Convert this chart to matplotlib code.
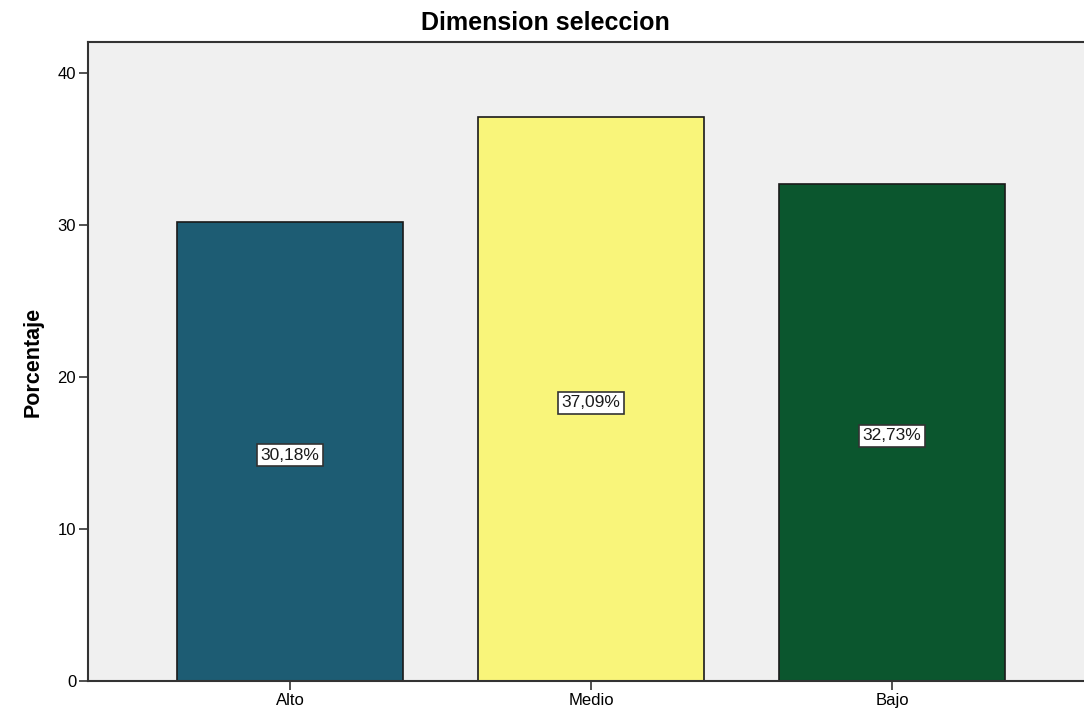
import matplotlib
matplotlib.use('Agg')
import matplotlib.pyplot as plt

# Data
categorias = ['Alto', 'Medio', 'Bajo']
porcentajes = [30.18, 37.09, 32.73]
etiquetas = ['30,18%', '37,09%', '32,73%']
colores = ['#1d5c73', '#f9f57a', '#0b562e']

plt.rcParams['font.family'] = ['Liberation Sans', 'DejaVu Sans']

fig = plt.figure(figsize=(10.84, 7.11), dpi=100)
ax = fig.add_axes([0.0812, 0.0422, 0.9188, 0.8987])
ax.set_facecolor('#f0f0f0')

x = range(len(categorias))
ax.bar(x, porcentajes, width=0.75, color=colores, edgecolor='#1a1a1a', linewidth=1.2, zorder=2)

# Value labels in the middle of each bar
for xi, val, lab in zip(x, porcentajes, etiquetas):
    ax.annotate(lab, (xi, val / 2), xytext=(0, -2.5), textcoords='offset points',
                ha='center', va='center', fontsize=12.5, color='#1a1a1a',
                bbox=dict(boxstyle='square,pad=0.2', facecolor='white', edgecolor='#333333', linewidth=1.2),
                zorder=3)

ax.set_xlim(-0.671, 2.638)
ax.set_ylim(0, 42.05)
ax.set_xticks(list(x))
ax.set_xticklabels(categorias)
ax.set_yticks([0, 10, 20, 30, 40])
ax.tick_params(axis='both', labelsize=12, length=6.5, width=1.2, color='#333333', pad=2)

ax.spines['right'].set_visible(False)
for side in ['left', 'bottom', 'top']:
    ax.spines[side].set_color('#333333')
    ax.spines[side].set_linewidth(1.5)

ax.set_ylabel('Porcentaje', fontsize=15.5, fontweight='bold', labelpad=10)
fig.text(0.503, 0.968, 'Dimension seleccion', ha='center', va='center', fontsize=18, fontweight='bold')

plt.savefig('out.png', dpi=100)
